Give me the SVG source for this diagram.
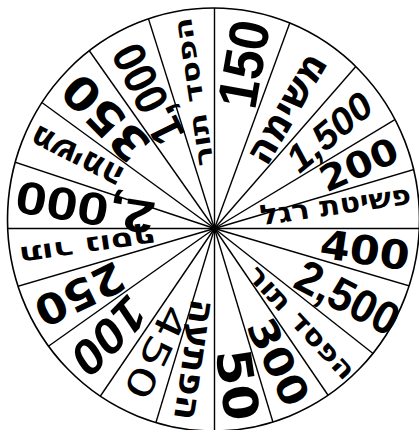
<svg xmlns="http://www.w3.org/2000/svg" width="419" height="430" viewBox="0 0 419 430">
<style>
.sp{stroke:#000;stroke-width:1.4;fill:none}
.rim{stroke:#000;stroke-width:1.6;fill:none}
text{fill:#000;text-anchor:middle;dominant-baseline:central}
.b{font-family:"DejaVu Sans",sans-serif;font-weight:bold}
.r{font-family:"DejaVu Sans",sans-serif}
.lb{font-family:"Liberation Sans",Arial,sans-serif;font-weight:bold}
.li{font-family:"Liberation Sans",Arial,sans-serif;font-style:italic;font-weight:bold}
</style>
<defs>
<clipPath id="wheel"><ellipse cx="213.5" cy="219.5" rx="206" ry="211.5"/></clipPath>
</defs>
<rect width="419" height="430" fill="#fff"/>
<g id="connectors" clip-path="url(#wheel)">
<line class="sp" x1="214.5" y1="228.5" x2="214.5" y2="0"/>
<line class="sp" x1="214.5" y1="228.5" x2="296.5" y2="4.6"/>
<line class="sp" x1="214.5" y1="228.5" x2="369.8" y2="50.5"/>
<line class="sp" x1="214.5" y1="228.5" x2="412.3" y2="109.2"/>
<line class="sp" x1="214.5" y1="228.5" x2="432.1" y2="164.2"/>
<line class="sp" x1="214.5" y1="228.5" x2="440" y2="228.5"/>
<line class="sp" x1="214.5" y1="228.5" x2="432.1" y2="292.5"/>
<line class="sp" x1="214.5" y1="228.5" x2="388.6" y2="365.8"/>
<line class="sp" x1="214.5" y1="228.5" x2="340.5" y2="413.5"/>
<line class="sp" x1="214.5" y1="228.5" x2="278.1" y2="439.2"/>
<line class="sp" x1="214.5" y1="228.5" x2="214.5" y2="450"/>
<line class="sp" x1="214.5" y1="228.5" x2="150.9" y2="439.2"/>
<line class="sp" x1="214.5" y1="228.5" x2="88.5" y2="413.5"/>
<line class="sp" x1="214.5" y1="228.5" x2="33.6" y2="356.7"/>
<line class="sp" x1="214.5" y1="228.5" x2="-3.1" y2="292.5"/>
<line class="sp" x1="214.5" y1="228.5" x2="-10" y2="228.5"/>
<line class="sp" x1="214.5" y1="228.5" x2="-5" y2="155.4"/>
<line class="sp" x1="214.5" y1="228.5" x2="24.4" y2="89.7"/>
<line class="sp" x1="214.5" y1="228.5" x2="77.5" y2="34"/>
<line class="sp" x1="214.5" y1="228.5" x2="141.7" y2="-2.7"/>
</g>
<ellipse id="rim" class="rim" cx="213.5" cy="219.5" rx="206" ry="211.5"/>
<g id="labels" transform="translate(214.5 228.5)">
<g id="seg-150" transform="rotate(-80)"><text class="lb" x="167" y="0" font-size="56" textLength="88" lengthAdjust="spacingAndGlyphs">150</text></g>
<g id="seg-mission1" transform="rotate(-59.5)"><text class="b" x="140" y="0" font-size="40" textLength="122" lengthAdjust="spacingAndGlyphs">משימה</text></g>
<g id="seg-1500" transform="rotate(-40)"><text class="li" x="150" y="0" font-size="38" textLength="100" lengthAdjust="spacingAndGlyphs">1,500</text></g>
<g id="seg-200" transform="rotate(-23.8)"><text class="b" x="158" y="0" font-size="36" textLength="82" lengthAdjust="spacingAndGlyphs">200</text></g>
<g id="seg-bankrupt" transform="rotate(-8.2)"><text class="b" x="123" y="-6" font-size="28" textLength="152" lengthAdjust="spacingAndGlyphs">פשיטת רגל</text></g>
<g id="seg-400" transform="rotate(8.2)"><text class="b" x="152" y="0" font-size="40" textLength="90" lengthAdjust="spacingAndGlyphs">400</text></g>
<g id="seg-2500" transform="rotate(27.4)"><text class="lb" x="150" y="0" font-size="46" textLength="110" lengthAdjust="spacingAndGlyphs">2,500</text></g>
<g id="seg-loseturn1" transform="rotate(47)"><text class="b" x="128" y="0" font-size="27" textLength="145" lengthAdjust="spacingAndGlyphs">הפסד תור</text></g>
<g id="seg-300" transform="rotate(64.5)"><text class="b" x="148" y="0" font-size="40" textLength="92" lengthAdjust="spacingAndGlyphs">300</text></g>
<g id="seg-50" transform="rotate(81.6)"><text class="b" x="158" y="0" font-size="48" textLength="72" lengthAdjust="spacingAndGlyphs">50</text></g>
<g id="seg-surprise" transform="rotate(98.4)"><text class="b" x="133" y="0" font-size="36" textLength="122" lengthAdjust="spacingAndGlyphs">הפתעה</text></g>
<g id="seg-450" transform="rotate(115.5)"><text class="r" x="137" y="0" font-size="36" textLength="100" lengthAdjust="spacingAndGlyphs">450</text></g>
<g id="seg-100" transform="rotate(134.5)"><text class="li" x="150" y="0" font-size="48" textLength="86" lengthAdjust="spacingAndGlyphs">100</text></g>
<g id="seg-250" transform="rotate(154.2)"><text class="b" x="150" y="0" font-size="42" textLength="94" lengthAdjust="spacingAndGlyphs">250</text></g>
<g id="seg-freeturn" transform="rotate(171.8)"><text class="b" x="128" y="0" font-size="26" textLength="138" lengthAdjust="spacingAndGlyphs">תור נוסף</text></g>
<g id="seg-2000" transform="rotate(189.2)"><text class="lb" x="131" y="0" font-size="46" textLength="140" lengthAdjust="spacingAndGlyphs">2,000</text></g>
<g id="seg-mission2" transform="rotate(207.2)"><text class="b" x="155" y="0" font-size="34" textLength="100" lengthAdjust="spacingAndGlyphs">משימה</text></g>
<g id="seg-350" transform="rotate(225.5)"><text class="b" x="155" y="0" font-size="46" textLength="102" lengthAdjust="spacingAndGlyphs">350</text></g>
<g id="seg-1000" transform="rotate(243.7)"><text class="lb" x="150" y="0" font-size="46" textLength="106" lengthAdjust="spacingAndGlyphs">1,000</text></g>
<g id="seg-loseturn2" transform="rotate(261.2)"><text class="b" x="138" y="0" font-size="26" textLength="150" lengthAdjust="spacingAndGlyphs">הפסד תור</text></g>
</g>
</svg>
